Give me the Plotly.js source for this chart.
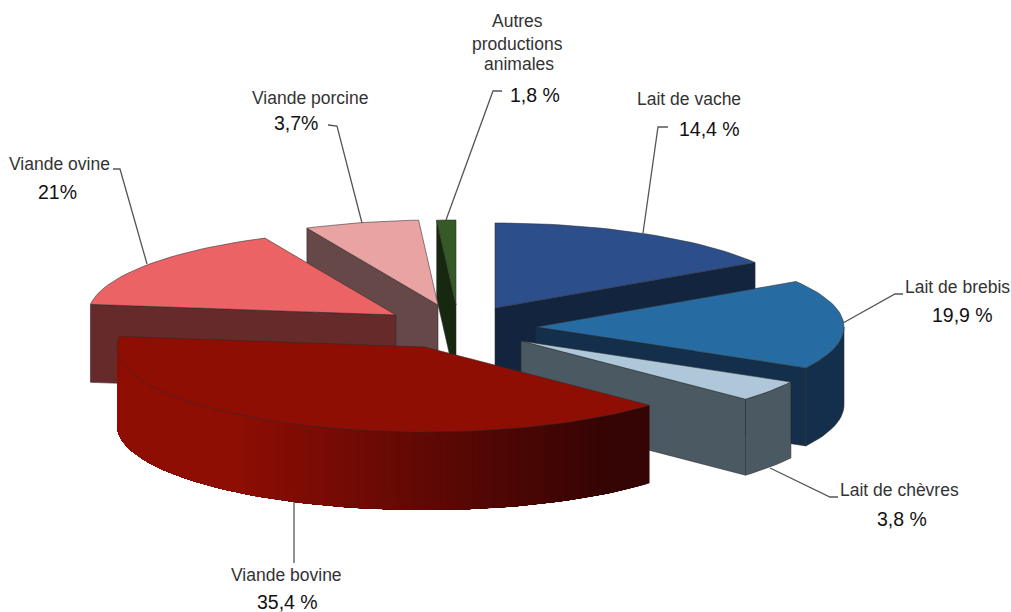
<!DOCTYPE html>
<html>
<head>
<meta charset="utf-8">
<script src="https://cdn.plot.ly/plotly-3.0.1.min.js"></script>
<style>html,body{margin:0;padding:0;background:#fff}#chart{width:1011px;height:612px}</style>
</head>
<body>
<div id="chart"></div>
<script>
// Data: the slices are drawn with these shares (%), the overprinted labels show valueLabels
const categories  = ["Lait de vache", "Lait de brebis", "Lait de chèvres", "Viande bovine", "Viande ovine", "Viande porcine", "Autres productions animales"];
const sliceShares = [16, 17, 4, 40, 16, 6, 1];
const valueLabels = ["14,4 %", "19,9 %", "3,8 %", "35,4 %", "21%", "3,7%", "1,8 %"];

// Styles and placement
const topColors  = ["#2c4f8c", "#266ca3", "#aec8da", "#8f0e04", "#ec6366", "#eaa3a3", "#365a26"];
const wallColors = ["#13243f", "#132f4b", "#4b5a62", "#8f0e04", "#662a2a", "#674848", "#162810"];
const apexX  = [495, 536, 521, 425, 396, 438, 456];
const apexY  = [308, 327, 341, 347, 315, 305, 305];
const depths = [78, 78, 76, 78, 78, 78, 78];
const RX = 308, RY = 85;
const EDGE = "rgba(45,45,45,0.8)";
const drawOrder = [6, 5, 4, 0, 1, 2, 3];

const rad = d => d * Math.PI / 180;
const px = (i, t) => apexX[i] + RX * Math.sin(rad(t));
const py = (i, t) => apexY[i] - RY * Math.cos(rad(t));

const bounds = [0];
sliceShares.forEach(s => bounds.push(bounds[bounds.length - 1] + s * 3.6));

const traces = [];
function poly(xs, ys, fill, line, w, name) {
  traces.push({type: "scatter", mode: "lines", x: xs, y: ys, fill: "toself", fillcolor: fill,
    line: {color: line, width: w}, hoverinfo: "skip", showlegend: false, name: name});
}
function mix(a, b, f) {
  return "rgb(" + a.map((v, k) => Math.round(v + (b[k] - v) * f)).join(",") + ")";
}
function arc(i, t0, t1) {
  const n = Math.max(2, Math.ceil(Math.abs(t1 - t0) / 2));
  const xs = [], ys = [];
  for (let k = 0; k <= n; k++) {
    const t = t0 + (t1 - t0) * k / n;
    xs.push(px(i, t)); ys.push(py(i, t));
  }
  return [xs, ys];
}
function wallBand(i, w0, w1) {
  const [xa, ya] = arc(i, w0, w1);
  return [xa.concat(xa.slice().reverse(), [xa[0]]),
          ya.concat(ya.slice().reverse().map(v => v + depths[i]), [ya[0]])];
}

drawOrder.forEach(i => {
  const t0 = bounds[i], t1 = bounds[i + 1], name = categories[i];
  const ax = apexX[i], ay = apexY[i], d = depths[i];
  // the one radial wall that faces the viewer
  if (i !== 3) {
    const t = i < 3 ? t1 : t0;
    poly([ax, px(i, t), px(i, t), ax, ax], [ay, py(i, t), py(i, t) + d, ay + d, ay], wallColors[i], EDGE, 0.7, name);
  }
  // outer curved wall (front half only)
  const w0 = Math.max(t0, 90), w1 = Math.min(t1, 270);
  if (w1 > w0) {
    if (i === 3) {
      // shading across the width; each band repaints the rest of the wall so no seams appear
      const dark = [53, 4, 4], light = [143, 14, 4];
      for (let t = w0; t < w1; t += 1) {
        const f = Math.min(1, Math.max(0, (px(i, t) - 610) / (230 - 610)));
        const [xs, ys] = wallBand(i, t, w1);
        poly(xs, ys, mix(dark, light, f), "rgba(0,0,0,0)", 0, name);
      }
    } else {
      const [xs, ys] = wallBand(i, w0, w1);
      poly(xs, ys, wallColors[i], EDGE, 0.7, name);
    }
  }
  // top face
  const [xt, yt] = arc(i, t0, t1);
  poly([ax].concat(xt, [ax]), [ay].concat(yt, [ay]), topColors[i], EDGE, 0.7, name);
});

const LINE = "#555555";
const leaders = [
  "M668,127 L658,127 L643,233",
  "M903,294 L895,294 L843,323",
  "M770,468 L830,497 L838,497",
  "M294,502 L294,563",
  "M113,169 L120,169 L147,264",
  "M328,125 L337,126 L362,223",
  "M502,91 L493,91 L446,220"
];
const shapes = leaders.map(p => ({type: "path", path: p, xref: "x", yref: "y", line: {color: LINE, width: 1.3}}));

const NAME_FONT = {family: "Liberation Sans, Arial, sans-serif", size: 17.5, color: "#333333"};
const VALUE_FONT = {family: "Liberation Sans, Arial, sans-serif", size: 19.5, color: "#111111"};
function note(text, x, y, font) {
  return {text: text, x: x, y: y, xref: "x", yref: "y", xanchor: "center", yanchor: "middle", showarrow: false, font: font};
}
const annotations = [
  note(categories[0], 689, 99, NAME_FONT),  note(valueLabels[0], 709, 129, VALUE_FONT),
  note(categories[1], 957, 287, NAME_FONT), note(valueLabels[1], 962, 315, VALUE_FONT),
  note(categories[2], 899, 490, NAME_FONT), note(valueLabels[2], 902, 519, VALUE_FONT),
  note(categories[3], 286, 575, NAME_FONT), note(valueLabels[3], 287, 602, VALUE_FONT),
  note(categories[4], 59, 164, NAME_FONT),  note(valueLabels[4], 57, 192, VALUE_FONT),
  note(categories[5], 310, 98, NAME_FONT),  note(valueLabels[5], 296, 123, VALUE_FONT),
  note("Autres", 517, 21, NAME_FONT), note("productions", 517, 44, NAME_FONT), note("animales", 519, 64, NAME_FONT),
  note(valueLabels[6], 535, 95, VALUE_FONT)
];

Plotly.newPlot("chart", traces, {
  width: 1011, height: 612,
  margin: {l: 0, r: 0, t: 0, b: 0},
  paper_bgcolor: "#ffffff", plot_bgcolor: "#ffffff",
  showlegend: false,
  xaxis: {range: [0, 1011], visible: false, fixedrange: true},
  yaxis: {range: [612, 0], visible: false, fixedrange: true},
  shapes: shapes,
  annotations: annotations
}, {displayModeBar: false, staticPlot: true});
</script>
</body>
</html>
